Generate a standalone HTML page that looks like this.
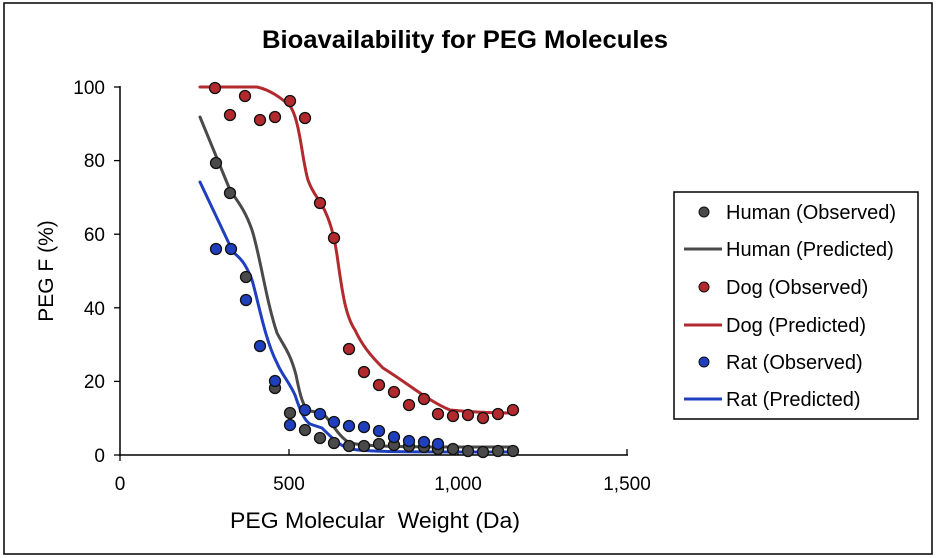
<!DOCTYPE html>
<html><head><meta charset="utf-8"><style>
html,body{margin:0;padding:0;background:#fff;}
svg{display:block;font-family:"Liberation Sans",Arial,sans-serif;}
</style></head><body>
<svg width="936" height="558" viewBox="0 0 936 558" xmlns="http://www.w3.org/2000/svg">
<rect x="4" y="3" width="928" height="551" fill="#fff" stroke="#000" stroke-width="1.5"/>
<text x="465" y="48" font-size="25" font-weight="bold" text-anchor="middle" textLength="406" lengthAdjust="spacingAndGlyphs">Bioavailability for PEG Molecules</text>
<!-- axes -->
<line x1="120" y1="86" x2="120" y2="456" stroke="#000" stroke-width="1.5"/>
<line x1="119" y1="455" x2="628" y2="455" stroke="#000" stroke-width="1.5"/>
<g stroke="#000" stroke-width="1.3">
<line x1="114" y1="87" x2="120" y2="87"/><line x1="114" y1="160.6" x2="120" y2="160.6"/>
<line x1="114" y1="234.2" x2="120" y2="234.2"/><line x1="114" y1="307.8" x2="120" y2="307.8"/>
<line x1="114" y1="381.4" x2="120" y2="381.4"/><line x1="114" y1="455" x2="120" y2="455"/>
<line x1="120" y1="455" x2="120" y2="461"/><line x1="289" y1="449" x2="289" y2="455"/>
<line x1="458" y1="449" x2="458" y2="455"/><line x1="627" y1="449" x2="627" y2="455"/>
</g>
<g font-size="19" text-anchor="end">
<text x="105" y="94">100</text><text x="105" y="167">80</text><text x="105" y="241">60</text>
<text x="105" y="315">40</text><text x="105" y="388">20</text><text x="105" y="462">0</text>
</g>
<g font-size="19" text-anchor="middle">
<text x="120" y="490">0</text><text x="289" y="490">500</text><text x="458" y="490">1,000</text><text x="627" y="490">1,500</text>
</g>
<text x="375" y="528" font-size="22" text-anchor="middle" textLength="290" lengthAdjust="spacingAndGlyphs" xml:space="preserve">PEG Molecular  Weight (Da)</text>
<text transform="translate(53,271) rotate(-90)" font-size="21" text-anchor="middle">PEG F (%)</text>
<!-- lines -->
<g fill="none" stroke-width="3" stroke-linejoin="round" stroke-linecap="round">
<path stroke="#b22a2e" d="M200,87 L257,87 C270,90 280,97 290,106 C300,120 302,160 308,180 C312,192 318,198 322,205 C330,220 334,235 337,255 C342,290 345,315 355,330 C362,345 370,355 383,368 C410,385 430,402 450,410 C470,412 495,413 513,413"/>
<path stroke="#4a4a4a" d="M200,117 L230,190 C238,202 245,210 252,230 C260,255 266,300 277,333 C283,345 290,352 296,375 C300,395 303,408 310,411 L323,413 C333,425 340,438 350,443 C370,447 400,447 513,447"/>
<path stroke="#1f3fbf" d="M200,182 L233,252 C240,258 245,262 252,280 C258,300 265,340 277,363 C282,375 288,380 295,395 C300,410 304,420 310,424 L322,428 C332,438 340,446 350,449 C370,452 400,452 513,452"/>
</g>
<!-- points -->
<g stroke="#111" stroke-width="1.3">
<g fill="#b22a2e">
<circle cx="215" cy="88" r="5.5"/><circle cx="230" cy="115" r="5.5"/><circle cx="245" cy="96" r="5.5"/><circle cx="260" cy="120" r="5.5"/><circle cx="275" cy="117" r="5.5"/><circle cx="290" cy="101" r="5.5"/><circle cx="305" cy="118" r="5.5"/><circle cx="320" cy="203" r="5.5"/><circle cx="334" cy="238" r="5.5"/><circle cx="349" cy="349" r="5.5"/><circle cx="364" cy="372" r="5.5"/><circle cx="379" cy="385" r="5.5"/><circle cx="394" cy="392" r="5.5"/><circle cx="409" cy="405" r="5.5"/><circle cx="424" cy="399" r="5.5"/><circle cx="438" cy="414" r="5.5"/><circle cx="453" cy="416" r="5.5"/><circle cx="468" cy="415" r="5.5"/><circle cx="483" cy="418" r="5.5"/><circle cx="498" cy="414" r="5.5"/><circle cx="513" cy="410" r="5.5"/>
</g>
<g fill="#4a4a4a">
<circle cx="216" cy="163" r="5.5"/><circle cx="230" cy="193" r="5.5"/><circle cx="246" cy="277" r="5.5"/><circle cx="275" cy="388" r="5.5"/><circle cx="290" cy="413" r="5.5"/><circle cx="305" cy="430" r="5.5"/><circle cx="320" cy="438" r="5.5"/><circle cx="334" cy="443" r="5.5"/><circle cx="349" cy="446" r="5.5"/><circle cx="364" cy="446" r="5.5"/><circle cx="379" cy="444" r="5.5"/><circle cx="394" cy="445" r="5.5"/><circle cx="409" cy="446" r="5.5"/><circle cx="424" cy="447" r="5.5"/><circle cx="438" cy="449" r="5.5"/>
</g>
<g fill="#1f3fbf">
<circle cx="216" cy="249" r="5.5"/><circle cx="231" cy="249" r="5.5"/><circle cx="246" cy="300" r="5.5"/><circle cx="260" cy="346" r="5.5"/><circle cx="275" cy="381" r="5.5"/><circle cx="290" cy="425" r="5.5"/><circle cx="305" cy="410" r="5.5"/><circle cx="320" cy="414" r="5.5"/><circle cx="334" cy="422" r="5.5"/><circle cx="349" cy="426" r="5.5"/><circle cx="364" cy="427" r="5.5"/><circle cx="379" cy="431" r="5.5"/><circle cx="394" cy="437" r="5.5"/><circle cx="409" cy="441" r="5.5"/><circle cx="424" cy="442" r="5.5"/><circle cx="438" cy="444" r="5.5"/>
</g>
<g fill="#4a4a4a">
<circle cx="453" cy="449" r="5.5"/><circle cx="468" cy="451" r="5.5"/><circle cx="483" cy="452" r="5.5"/><circle cx="498" cy="451" r="5.5"/><circle cx="513" cy="451" r="5.5"/>
</g>
</g>
<!-- legend -->
<rect x="674" y="192" width="244" height="227" fill="#fff" stroke="#000" stroke-width="1.5"/>
<g font-size="20">
<circle cx="704" cy="212" r="5" fill="#4a4a4a" stroke="#111"/><text x="726" y="219">Human (Observed)</text>
<line x1="684" y1="249" x2="722" y2="249" stroke="#4a4a4a" stroke-width="3"/><text x="726" y="256">Human (Predicted)</text>
<circle cx="704" cy="287" r="5" fill="#b22a2e" stroke="#111"/><text x="726" y="294">Dog (Observed)</text>
<line x1="684" y1="325" x2="722" y2="325" stroke="#b22a2e" stroke-width="3"/><text x="726" y="332">Dog (Predicted)</text>
<circle cx="704" cy="362" r="5" fill="#1f3fbf" stroke="#111"/><text x="726" y="369">Rat (Observed)</text>
<line x1="684" y1="399" x2="722" y2="399" stroke="#1f3fbf" stroke-width="3"/><text x="726" y="406">Rat (Predicted)</text>
</g>
</svg>
</body></html>
